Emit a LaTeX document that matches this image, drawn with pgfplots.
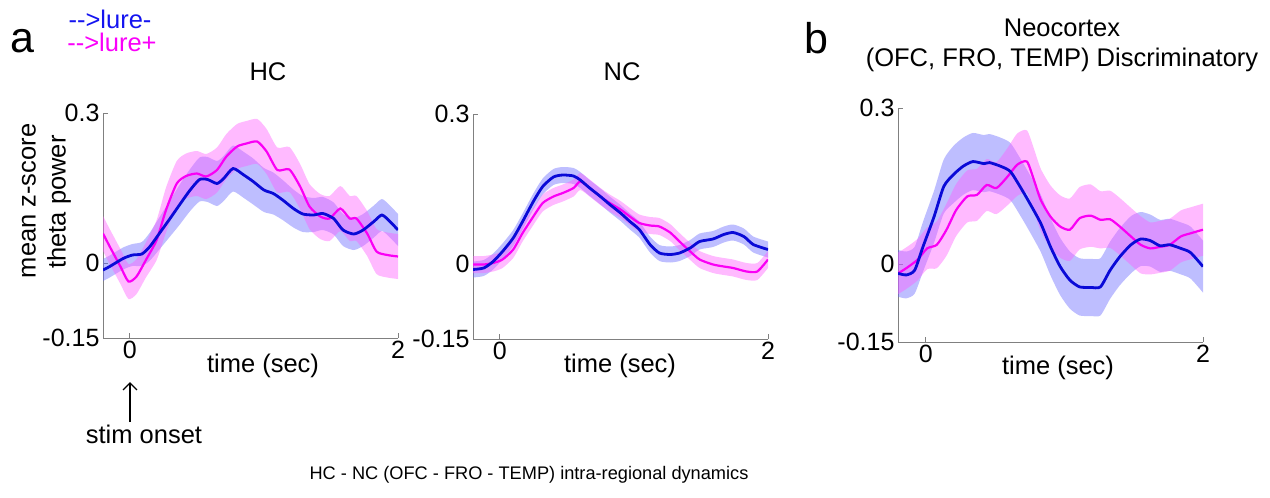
\documentclass[border=0pt]{standalone}
\usepackage{pgfplots}
\usepackage{pgfplotstable}
\pgfplotsset{compat=1.18}
\usepgfplotslibrary{fillbetween}
\usetikzlibrary{arrows.meta}
\usepackage{fontspec}
\setmainfont{Liberation Sans}

\definecolor{lineblue}{RGB}{10,10,215}
\definecolor{linemag}{RGB}{250,0,245}
\definecolor{txtblue}{RGB}{20,20,240}
\definecolor{txtmag}{RGB}{250,0,250}
\definecolor{bandblue}{RGB}{100,100,255}
\definecolor{bandmag}{RGB}{255,90,255}

% t m e  (time, mean, half band width)
\pgfplotstableread{
t m e
-0.20 -0.014 0.022
-0.15 -0.007 0.022
-0.05 0.009 0.022
0.02 0.016 0.022
0.09 0.018 0.024
0.15 0.033 0.028
0.22 0.059 0.032
0.30 0.089 0.036
0.37 0.116 0.040
0.45 0.146 0.042
0.52 0.167 0.044
0.58 0.167 0.045
0.65 0.159 0.045
0.70 0.169 0.045
0.77 0.189 0.046
0.85 0.176 0.046
0.92 0.163 0.046
1.00 0.146 0.044
1.07 0.139 0.042
1.14 0.126 0.040
1.22 0.109 0.038
1.29 0.098 0.036
1.37 0.096 0.034
1.44 0.099 0.033
1.52 0.089 0.032
1.59 0.066 0.032
1.67 0.058 0.032
1.74 0.066 0.032
1.82 0.083 0.032
1.88 0.096 0.032
1.94 0.083 0.032
2.00 0.066 0.032
}\hcblue
\pgfplotstableread{
t m e
-0.20 0.059 0.035
-0.15 0.033 0.035
-0.07 -0.007 0.035
-0.01 -0.037 0.035
0.05 -0.027 0.035
0.12 0.006 0.035
0.20 0.046 0.040
0.27 0.106 0.045
0.35 0.159 0.045
0.42 0.174 0.045
0.50 0.179 0.045
0.57 0.173 0.045
0.65 0.186 0.045
0.72 0.213 0.045
0.80 0.233 0.045
0.87 0.239 0.045
0.95 0.243 0.045
1.02 0.223 0.045
1.10 0.186 0.045
1.19 0.187 0.045
1.27 0.153 0.045
1.34 0.113 0.045
1.42 0.093 0.045
1.49 0.089 0.045
1.57 0.109 0.045
1.64 0.089 0.045
1.69 0.089 0.045
1.77 0.059 0.045
1.84 0.023 0.045
1.92 0.016 0.045
2.00 0.013 0.045
}\hcmag
\pgfplotstableread{
t m e
-0.20 -0.011 0.016
-0.12 -0.008 0.016
-0.05 0.005 0.016
0.02 0.025 0.016
0.10 0.052 0.016
0.17 0.085 0.016
0.25 0.125 0.016
0.32 0.155 0.016
0.40 0.174 0.016
0.47 0.178 0.016
0.55 0.176 0.016
0.60 0.168 0.016
0.67 0.152 0.016
0.75 0.135 0.016
0.82 0.119 0.016
0.90 0.102 0.016
0.97 0.085 0.016
1.04 0.069 0.016
1.12 0.039 0.016
1.19 0.022 0.016
1.27 0.019 0.016
1.34 0.022 0.016
1.42 0.032 0.016
1.49 0.045 0.016
1.59 0.050 0.016
1.67 0.059 0.016
1.74 0.063 0.016
1.82 0.055 0.016
1.89 0.039 0.016
2.00 0.029 0.016
}\ncblue
\pgfplotstableread{
t m e
-0.20 -0.001 0.017
-0.12 -0.001 0.017
-0.05 0.002 0.017
0.02 0.009 0.017
0.10 0.029 0.017
0.17 0.062 0.017
0.25 0.095 0.017
0.32 0.122 0.017
0.40 0.135 0.017
0.47 0.142 0.017
0.55 0.152 0.017
0.60 0.165 0.017
0.67 0.152 0.017
0.75 0.135 0.017
0.82 0.122 0.017
0.90 0.109 0.017
0.97 0.095 0.017
1.04 0.082 0.017
1.12 0.077 0.017
1.19 0.075 0.017
1.27 0.063 0.017
1.34 0.045 0.017
1.42 0.025 0.017
1.49 0.009 0.017
1.59 -0.001 0.017
1.67 -0.005 0.017
1.74 -0.008 0.017
1.84 -0.015 0.017
1.92 -0.015 0.017
2.00 0.009 0.017
}\ncmag
\pgfplotstableread{
t m e
-0.20 -0.018 0.045
-0.14 -0.021 0.045
-0.08 -0.012 0.045
-0.02 0.033 0.048
0.06 0.091 0.050
0.13 0.149 0.052
0.20 0.172 0.055
0.27 0.188 0.055
0.34 0.197 0.055
0.42 0.193 0.055
0.46 0.195 0.055
0.54 0.188 0.055
0.61 0.178 0.055
0.68 0.149 0.055
0.75 0.117 0.055
0.83 0.078 0.055
0.90 0.033 0.055
0.97 -0.005 0.055
1.04 -0.031 0.055
1.11 -0.044 0.055
1.19 -0.045 0.055
1.26 -0.044 0.055
1.33 -0.012 0.055
1.40 0.014 0.055
1.48 0.037 0.055
1.55 0.048 0.052
1.62 0.045 0.050
1.69 0.035 0.050
1.76 0.037 0.050
1.84 0.030 0.050
1.91 0.022 0.050
2.00 -0.005 0.050
}\neoblue
\pgfplotstableread{
t m e
-0.20 -0.018 0.040
-0.14 -0.008 0.040
-0.06 0.008 0.040
0.01 0.030 0.040
0.08 0.037 0.045
0.15 0.066 0.050
0.22 0.104 0.050
0.30 0.130 0.050
0.37 0.133 0.050
0.44 0.152 0.050
0.51 0.146 0.050
0.59 0.168 0.055
0.66 0.191 0.060
0.73 0.197 0.060
0.78 0.162 0.060
0.83 0.123 0.060
0.90 0.091 0.060
0.97 0.072 0.060
1.04 0.066 0.060
1.11 0.088 0.060
1.19 0.093 0.060
1.26 0.085 0.055
1.33 0.086 0.055
1.40 0.072 0.055
1.48 0.053 0.055
1.55 0.037 0.055
1.62 0.030 0.050
1.69 0.033 0.050
1.76 0.037 0.050
1.84 0.053 0.050
1.91 0.059 0.050
2.00 0.066 0.050
}\neomag

\pgfplotsset{
  panel/.style={
    scale only axis,
    xmin=-0.2, xmax=2, ymin=-0.15, ymax=0.3,
    axis x line*=bottom, axis y line*=left,
    axis line style={-, draw=gray, line width=1pt},
    xtick={0,2}, xticklabels={0,2},
    ytick={-0.15,0,0.3}, yticklabels={-0.15,0,0.3},
    tick style={draw=gray, line width=0.8pt},
    tick align=inside, major tick length=5pt,
    ticklabel style={font=\fontsize{25}{29}\selectfont},
    /pgf/number format/assume math mode=true,
  }
}

% #1 table, #2 prefix, #3 band colour
\newcommand{\band}[3]{%
  \addplot[draw=none, forget plot, smooth, tension=0.4, name path=#2up] table[x=t, y expr=\thisrow{m}+\thisrow{e}] {#1};
  \addplot[draw=none, forget plot, smooth, tension=0.4, name path=#2lo] table[x=t, y expr=\thisrow{m}-\thisrow{e}] {#1};
  \addplot[fill=#3, fill opacity=0.42, draw=none, forget plot] fill between[of=#2up and #2lo];
}

\begin{document}
\begin{tikzpicture}[x=1pt,y=1pt]

% Panel a: HC
\begin{axis}[panel, at={(103pt,-338pt)}, anchor=south west, width=295pt, height=225pt]
  \band{\hcblue}{hb}{bandblue}
  \band{\hcmag}{hm}{bandmag}
  \addplot[linemag, line width=2.2pt, smooth, tension=0.4] table[x=t, y=m] {\hcmag};
  \addplot[lineblue, line width=2.8pt, smooth, tension=0.4] table[x=t, y=m] {\hcblue};
\end{axis}

% Panel a: NC
\begin{axis}[panel, at={(473pt,-339pt)}, anchor=south west, width=295pt, height=225pt]
  \band{\ncblue}{nb}{bandblue}
  \band{\ncmag}{nm}{bandmag}
  \addplot[linemag, line width=2.2pt, smooth, tension=0.4] table[x=t, y=m] {\ncmag};
  \addplot[lineblue, line width=2.8pt, smooth, tension=0.4] table[x=t, y=m] {\ncblue};
\end{axis}

% Panel b
\begin{axis}[panel, at={(898pt,-342pt)}, anchor=south west, width=305pt, height=234pt]
  \band{\neoblue}{bb}{bandblue}
  \band{\neomag}{bm}{bandmag}
  \addplot[linemag, line width=2.2pt, smooth, tension=0.4] table[x=t, y=m] {\neomag};
  \addplot[lineblue, line width=2.8pt, smooth, tension=0.4] table[x=t, y=m] {\neoblue};
\end{axis}

\begin{scope}[every node/.style={inner sep=0pt, font=\fontsize{25.5}{30}\selectfont}]
  \node at (22,-41) {\fontsize{43}{47}\selectfont a};
  \node at (816,-38) {\fontsize{43}{47}\selectfont b};
  \node[text=txtblue] at (110,-19) {-{}-{}>lure-};
  \node[text=txtmag] at (112,-42) {-{}-{}>lure+};
  \node at (268,-72) {HC};
  \node at (622,-72) {NC};
  \node at (1062,-28) {Neocortex};
  \node at (1062,-60) {(OFC, FRO, TEMP) Discriminatory};
  \node[rotate=90] at (29,-201) {mean z-score};
  \node[rotate=90] at (59,-202) {theta power};
  \node at (263,-366) {time (sec)};
  \node at (620,-366) {time (sec)};
  \node at (1058,-368) {time (sec)};
  \draw[line width=1.3pt, -{Straight Barb[length=7pt, width=14pt]}] (130,-422) -- (130,-382);
  \node at (144,-434) {stim onset};
  \node at (529,-475) {\fontsize{18.2}{22}\selectfont HC - NC (OFC - FRO - TEMP) intra-regional dynamics};
\end{scope}
\path (0,0) rectangle (1270,-498);
\end{tikzpicture}
\end{document}
